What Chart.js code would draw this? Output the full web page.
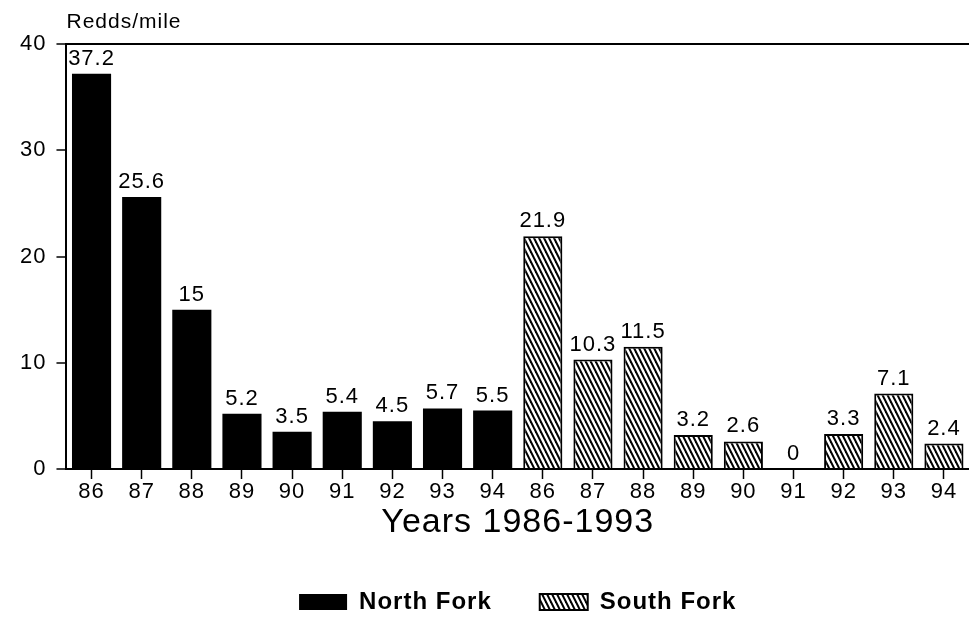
<!DOCTYPE html>
<html>
<head>
<meta charset="utf-8">
<script src="https://cdn.jsdelivr.net/npm/chart.js@4/dist/chart.umd.min.js"></script>
<style>
  body { margin: 0; background: #fff; }
</style>
</head>
<body>
<canvas id="redds" width="969" height="630"></canvas>
<script>
// years shown twice, once per fork
const years = ['86', '87', '88', '89', '90', '91', '92', '93', '94'];
const northFork = [37.2, 25.6, 15, 5.2, 3.5, 5.4, 4.5, 5.7, 5.5];
const southFork = [21.9, 10.3, 11.5, 3.2, 2.6, 0, 3.3, 7.1, 2.4];
const yTicks = [0, 10, 20, 30, 40];

const labels = years.concat(years);
const blanks = years.map(() => null);
const northData = northFork.concat(blanks);
const southData = blanks.concat(southFork);

const FONT = "'Liberation Sans', Arial, sans-serif";

// diagonal hatch like the printed figure
function hatch() {
    const c = document.createElement('canvas');
    c.width = 5;
    c.height = 10;
    const g = c.getContext('2d');
    g.fillStyle = '#fff';
    g.fillRect(0, 0, 5, 10);
    g.strokeStyle = '#000';
    g.lineWidth = 2;
    [-5, 0, 5].forEach(dx => {
        g.beginPath();
        g.moveTo(dx - 1, -2);
        g.lineTo(dx + 6, 12);
        g.stroke();
    });
    return g.createPattern(c, 'repeat');
}

// the scanned lettering is set quite loose
const spacing = {
    id: 'spacing',
    beforeUpdate(chart) { chart.ctx.letterSpacing = '1px'; },
    beforeDraw(chart) { chart.ctx.letterSpacing = '1px'; }
};

const valueLabels = {
    id: 'valueLabels',
    afterDatasetsDraw(chart) {
        const ctx = chart.ctx;
        ctx.save();
        ctx.fillStyle = '#000';
        ctx.font = '22px ' + FONT;
        ctx.textAlign = 'center';
        ctx.textBaseline = 'alphabetic';
        chart.data.datasets.forEach((ds, i) => {
            chart.getDatasetMeta(i).data.forEach((bar, j) => {
                const v = ds.data[j];
                if (v === null) return;
                const y = Math.max(bar.y - 9, chart.chartArea.top + 21);
                ctx.fillText(String(v), bar.x, y);
            });
        });
        // unit label over the axis
        ctx.font = '21px ' + FONT;
        ctx.textAlign = 'left';
        ctx.fillText('Redds/mile', chart.chartArea.left, chart.chartArea.top - 16);
        ctx.restore();
    }
};

const ctx = document.getElementById('redds').getContext('2d');
const chart = new Chart(ctx, {
    type: 'bar',
    data: {
        labels: labels,
        datasets: [{
            label: 'North Fork',
            data: northData,
            backgroundColor: '#000',
            borderColor: '#000',
            borderWidth: 0
        }, {
            label: 'South Fork',
            data: southData,
            backgroundColor: hatch(),
            borderColor: '#000',
            borderWidth: 2
        }]
    },
    options: {
        responsive: false,
        animation: false,
        grouped: false,
        categoryPercentage: 1,
        barPercentage: 0.78,
        layout: {
            padding: { top: 44, left: 10, right: 0, bottom: 6 }
        },
        plugins: {
            tooltip: { enabled: false },
            legend: {
                position: 'bottom',
                fullSize: false,
                labels: {
                    color: '#000',
                    boxWidth: 48,
                    boxHeight: 16,
                    padding: 48,
                    font: { family: FONT, size: 24, weight: 'bold' }
                }
            }
        },
        scales: {
            x: {
                offset: true,
                border: { color: '#000', width: 2 },
                grid: {
                    offset: false,
                    drawOnChartArea: false,
                    tickLength: 10,
                    tickColor: '#000',
                    tickWidth: 1.5
                },
                ticks: {
                    color: '#000',
                    padding: 2,
                    maxRotation: 0,
                    autoSkip: false,
                    font: { family: FONT, size: 22, lineHeight: 1 }
                },
                title: {
                    display: true,
                    text: 'Years 1986-1993',
                    color: '#000',
                    padding: { top: 1, bottom: 2 },
                    font: { family: FONT, size: 34, lineHeight: 1 }
                }
            },
            y: {
                min: yTicks[0],
                max: yTicks[yTicks.length - 1],
                border: { color: '#000', width: 2 },
                grid: {
                    color: c => c.tick && c.tick.value === 40 ? '#000' : 'rgba(0,0,0,0)',
                    lineWidth: 2,
                    tickLength: 10,
                    tickColor: '#000',
                    tickWidth: 1.5
                },
                afterBuildTicks: axis => {
                    axis.ticks = yTicks.map(v => ({ value: v }));
                },
                ticks: {
                    color: '#000',
                    padding: 10,
                    font: { family: FONT, size: 22 }
                }
            }
        }
    },
    plugins: [spacing, valueLabels]
});
</script>
</body>
</html>
